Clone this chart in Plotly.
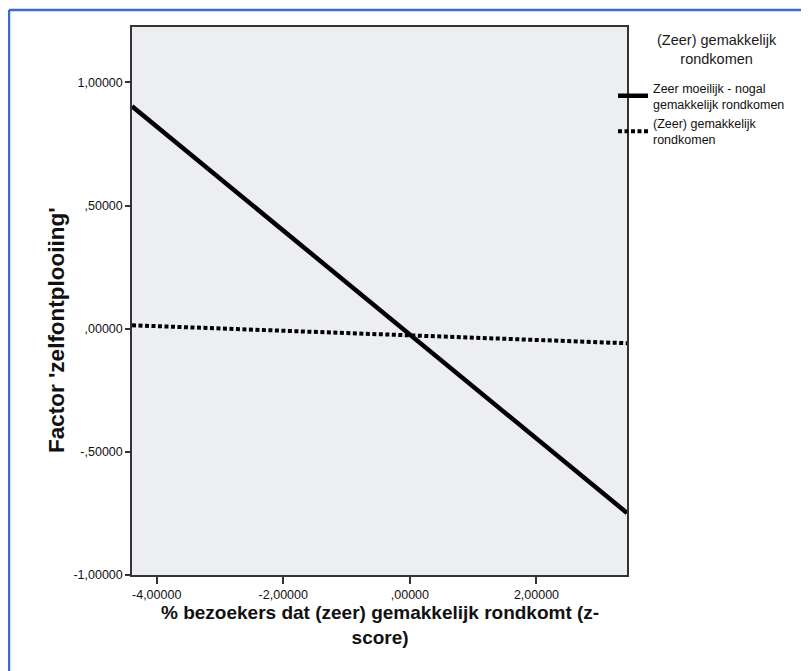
import plotly.graph_objects as go

# Data
x_ends = [-4.39, 3.43]
solid_y = [0.903, -0.748]      # Zeer moeilijk - nogal gemakkelijk rondkomen
dotted_y = [0.014, -0.059]     # (Zeer) gemakkelijk rondkomen
series_names = ["Zeer moeilijk - nogal<br>gemakkelijk rondkomen",
                "(Zeer) gemakkelijk<br>rondkomen"]
legend_title = "(Zeer) gemakkelijk<br>rondkomen"

y_tickvals = [-1.0, -0.5, 0.0, 0.5, 1.0]
y_ticktext = ["-1,00000", "-,50000", ",00000", ",50000", "1,00000"]
x_tickvals = [-4.0, -2.0, 0.0, 2.0]
x_ticktext = ["-4,00000", "-2,00000", ",00000", "2,00000"]

x_title = "% bezoekers dat (zeer) gemakkelijk rondkomt (z-<br>score)"
y_title = "Factor 'zelfontplooiing'"

FONT = "Liberation Sans, Arial, sans-serif"
OFF = 8                     # page body margin of the browser
W, H = 809 - OFF, 671 - OFF
# plot area in screen pixels: x 132..627, y 27..575
L, T = 132 - OFF, 27 - OFF
R = W - (627 - OFF)
B = H - (575 - OFF)
PW, PH = W - L - R, H - T - B

def px_x(p):                # screen px -> paper
    return (p - OFF - L) / PW

def px_y(p):
    return (H - B - (p - OFF)) / PH

fig = go.Figure()
fig.add_trace(go.Scatter(
    x=x_ends, y=solid_y, mode="lines", name=series_names[0],
    line=dict(color="black", width=4.5)))
fig.add_trace(go.Scatter(
    x=x_ends, y=dotted_y, mode="lines", name=series_names[1],
    line=dict(color="black", width=4, dash="4px,2.5px")))

# blue outer frame (extends off the canvas to the right and bottom)
blue = "#3b6cc6"
fig.add_shape(type="line", xref="paper", yref="paper",
              x0=px_x(9), x1=px_x(830), y0=px_y(10), y1=px_y(10),
              line=dict(color=blue, width=2.5))
fig.add_shape(type="line", xref="paper", yref="paper",
              x0=px_x(9), x1=px_x(9), y0=px_y(10), y1=px_y(690),
              line=dict(color=blue, width=2.5))

# axis titles
fig.add_annotation(text=y_title, textangle=-90, xref="paper", yref="paper",
                   x=px_x(56), y=px_y(330), xanchor="center", yanchor="middle",
                   showarrow=False,
                   font=dict(family=FONT, size=22.5, color="#111", weight="bold"))
fig.add_annotation(text=x_title, xref="paper", yref="paper",
                   x=0.5, y=px_y(600), xanchor="center", yanchor="top",
                   showarrow=False, align="center",
                   font=dict(family=FONT, size=19, color="#111", weight="bold"))

# legend title
fig.add_annotation(text=legend_title, xref="paper", yref="paper",
                   x=px_x(717), y=px_y(49), xanchor="center", yanchor="middle",
                   showarrow=False, align="center",
                   font=dict(family=FONT, size=14.5, color="#1a1a1a"))

fig.update_layout(
    width=W, height=H,
    margin=dict(l=L, r=R, t=T, b=B, autoexpand=False),
    paper_bgcolor="white",
    plot_bgcolor="#eceef1",
    font=dict(family=FONT, size=12.5, color="#111"),
    showlegend=True,
    legend=dict(
        x=px_x(613), y=px_y(73), xanchor="left", yanchor="top",
        bgcolor="rgba(0,0,0,0)",
        font=dict(family=FONT, size=12.5, color="#111"),
        itemwidth=30, tracegroupgap=0,
    ),
    xaxis=dict(
        range=x_ends, tickvals=x_tickvals, ticktext=x_ticktext,
        showgrid=False, zeroline=False,
        showline=True, linecolor="#333", linewidth=1.5, mirror=True,
        ticks="outside", ticklen=7, tickcolor="#333", tickwidth=1.5,
        tickfont=dict(family=FONT, size=12.5, color="#111"),
    ),
    yaxis=dict(
        range=[-1.0, 1.225], tickvals=y_tickvals, ticktext=y_ticktext,
        showgrid=False, zeroline=False,
        showline=True, linecolor="#333", linewidth=1.5, mirror=True,
        ticks="outside", ticklen=5, tickcolor="#333", tickwidth=1.5,
        tickfont=dict(family=FONT, size=12.5, color="#111"),
    ),
)

fig.write_html("out.html")
